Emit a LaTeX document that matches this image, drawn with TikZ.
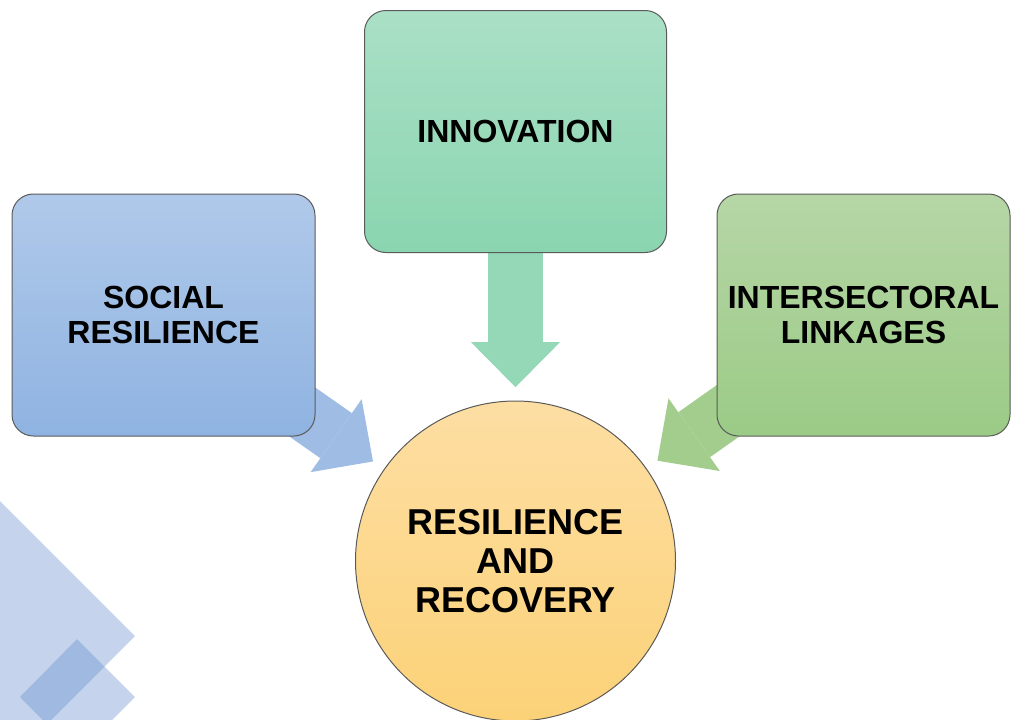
\documentclass[tikz,border=0pt]{standalone}
\usepackage{fontspec}
\setmainfont{Liberation Sans}
\setsansfont{Liberation Sans}
\usetikzlibrary{arrows.meta,backgrounds}
\definecolor{boxline}{RGB}{90,90,90}
\definecolor{socialtop}{RGB}{176,201,234}
\definecolor{socialbot}{RGB}{143,179,225}
\definecolor{innovtop}{RGB}{170,224,198}
\definecolor{innovbot}{RGB}{138,213,176}
\definecolor{linktop}{RGB}{182,214,166}
\definecolor{linkbot}{RGB}{155,203,134}
\definecolor{coretop}{RGB}{253,222,163}
\definecolor{corebot}{RGB}{252,210,120}
\definecolor{socialflow}{RGB}{158,188,228}
\definecolor{innovflow}{RGB}{149,216,184}
\definecolor{linkflow}{RGB}{162,205,141}
\definecolor{decor}{RGB}{95,136,203}
\tikzset{every picture/.style={/utils/exec={\sffamily}}}

\begin{document}
\begin{tikzpicture}[x=0.75pt, y=-0.75pt,
  factor/.style={draw=boxline, line width=0.75pt, rounded corners=16pt,
    minimum height=181.5pt, align=center,
    font=\fontsize{24}{26}\selectfont\bfseries},
  hub/.style={circle, draw=boxline, line width=0.75pt, minimum size=240pt,
    inner sep=0pt, align=center, top color=coretop, bottom color=corebot,
    font=\fontsize{27}{29}\selectfont\bfseries},
  flow/.style={line width=41.25pt, shorten >=10pt,
    -{Triangle[width=66.75pt, length=33.75pt, line width=0pt]}}]

  \useasboundingbox (0,0) rectangle (1013,719);

  % backdrop shapes
  \begin{scope}
    \clip (0,0) rectangle (1013,719);
    \fill [decor, fill opacity=0.36] (135,636) -- (-10,491) -- (-10,781) -- cycle;
    \fill [decor, fill opacity=0.36] (77,639) -- (135,697) -- (77,755) -- (20,697) -- cycle;
  \end{scope}

  \node [factor, minimum width=227.25pt, top color=socialtop, bottom color=socialbot]
    (social) at (163.5,315) {SOCIAL\\RESILIENCE};
  \node [factor, minimum width=226.5pt, top color=innovtop, bottom color=innovbot]
    (innov) at (515.5,131.5) {INNOVATION};
  \node [factor, minimum width=219.75pt, top color=linktop, bottom color=linkbot]
    (linkage) at (863.5,315) {INTERSECTORAL\\LINKAGES};
  \node [hub] (core) at (515.5,561) {RESILIENCE\\AND\\RECOVERY};

  \begin{pgfonlayer}{background}
    \draw [flow, draw=socialflow, fill=socialflow] (social.center) -- (core);
    \draw [flow, draw=innovflow, fill=innovflow] (innov.center) -- (core);
    \draw [flow, draw=linkflow, fill=linkflow] (linkage.center) -- (core);
  \end{pgfonlayer}
\end{tikzpicture}
\end{document}
